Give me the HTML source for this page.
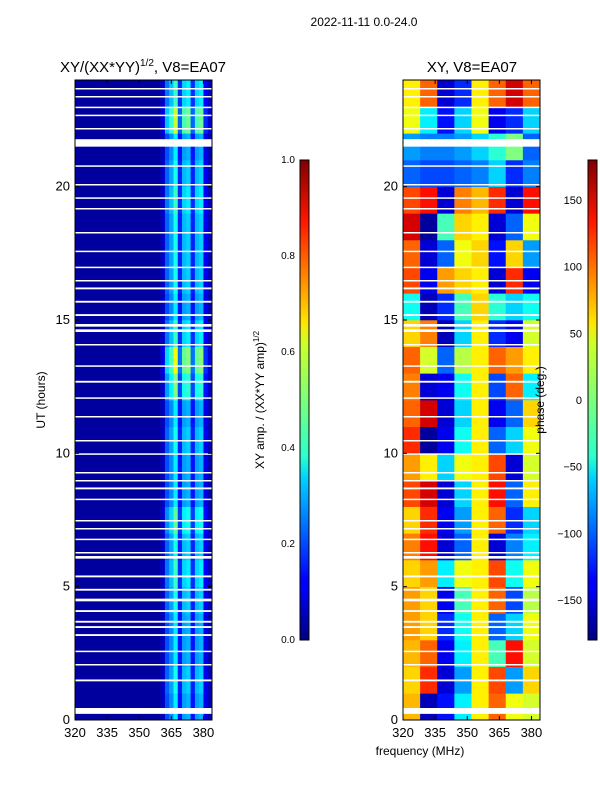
<!DOCTYPE html>
<html><head><meta charset="utf-8">
<style>
body{margin:0;background:#fff;font-family:"Liberation Sans",sans-serif;}
svg text{font-family:"Liberation Sans",sans-serif;fill:#000;}
</style></head><body>
<svg id="fig" width="600" height="800" viewBox="0 0 600 800">
<defs>
<linearGradient id="jet" x1="0" y1="1" x2="0" y2="0">
<stop offset="0" stop-color="#00007f"/><stop offset="0.11" stop-color="#0000ff"/>
<stop offset="0.125" stop-color="#0000ff"/><stop offset="0.34" stop-color="#00d4ff"/>
<stop offset="0.38" stop-color="#29ffce"/><stop offset="0.5" stop-color="#7dff7a"/>
<stop offset="0.62" stop-color="#ceff29"/><stop offset="0.66" stop-color="#ffe500"/>
<stop offset="0.875" stop-color="#ff1400"/><stop offset="1" stop-color="#7f0000"/>
</linearGradient>
</defs>
<text x="364" y="26" font-size="12" text-anchor="middle">2022-11-11 0.0-24.0</text>
<text x="143" y="72" font-size="15" text-anchor="middle">XY/(XX*YY)<tspan font-size="10" dy="-6">1/2</tspan><tspan dy="6">, V8=EA07</tspan></text>
<text x="472" y="72" font-size="15" text-anchor="middle">XY, V8=EA07</text>
<g id="left"></g>
<g id="right"></g>
<g id="axes"></g>
<rect x="300" y="160" width="9" height="480" fill="url(#jet)" stroke="#000" stroke-width="1"/>
<rect x="588" y="160" width="9" height="480" fill="url(#jet)" stroke="#000" stroke-width="1"/>
<text transform="translate(264,400) rotate(-90)" font-size="12" text-anchor="middle">XY amp. / (XX*YY amp)<tspan font-size="8" dy="-5">1/2</tspan></text>
<text transform="translate(544,400) rotate(-90)" font-size="12" text-anchor="middle">phase (deg.)</text>
<text transform="translate(45,400) rotate(-90)" font-size="12" text-anchor="middle">UT (hours)</text>
<text x="420" y="755" font-size="12" text-anchor="middle">frequency (MHz)</text>
</svg>
<script>
const freqMin=320,freqMax=384,hourMin=0,hourMax=24;
const ampChannelStart=[320,360,362,364,366,368,370,372,374,376,378,380,382];
const ampProfile=[0.03,0.06,0.2,0.26,0.36,0.14,0.28,0.3,0.14,0.28,0.3,0.1,0.05];
const ampHourGain=[1.0,1.1,1.0,1.0,1.1,1.2,1.1,1.3,1.0,1.0,1.1,1.0,1.4,1.7,1.2,1.0,1.1,1.1,1.1,1.2,1.1,1.0,1.6,1.2];
const phaseBinStart=[320,328,336,344,352,360,368,376];
const phaseGrid=[
[70,-160,-130,-50,50,100,40,30],
[60,120,-150,-80,50,110,-80,60],
[70,100,-140,-50,50,-20,130,30],
[80,60,-120,-40,50,-100,-60,40],
[80,60,-140,-20,50,100,-110,20],
[60,80,-50,40,50,110,-40,40],
[90,130,-150,-100,50,-150,-90,-50],
[60,120,-140,-80,50,100,-120,-60],
[110,150,-150,-60,50,130,-100,50],
[80,50,-60,40,50,110,-150,30],
[120,-170,-140,-40,50,-100,-60,40],
[100,150,-150,-60,50,-140,-100,60],
[90,-150,-140,-40,50,-110,100,-50],
[100,30,-100,20,50,100,80,50],
[60,90,-160,-60,50,-120,-140,30],
[-40,-160,-120,-20,60,-30,-60,-40],
[110,-140,80,60,50,-150,120,-140],
[100,-150,-100,40,60,-130,60,-80],
[150,-170,-20,60,50,-150,-100,40],
[110,130,-150,90,70,120,-150,130],
[-100,-110,-110,-100,-90,-60,-120,-90],
[-80,-90,-90,-80,-60,-30,0,-100],
[40,-50,-130,-60,40,-140,-120,-60],
[50,100,-150,-120,50,100,150,100]];
const flagStart=[0.23,1.45,2.05,2.55,3.15,3.45,3.65,4.05,4.45,4.85,5.35,6.05,6.25,6.75,7.15,7.45,8.25,8.65,8.95,9.25,9.95,10.45,11.35,12.05,12.65,13.25,14.05,14.55,14.75,15.15,15.65,16.15,16.45,16.95,17.55,18.25,19.15,19.55,20.05,20.75,21.5,22.15,22.65,22.95,23.35,23.65];
const flagEnd=[0.45,1.52,2.1,2.6,3.22,3.52,3.72,4.12,4.55,4.92,5.42,6.15,6.3,6.8,7.2,7.5,8.3,8.72,9.0,9.3,10.0,10.5,11.4,12.1,12.72,13.3,14.1,14.65,14.85,15.22,15.72,16.22,16.5,17.0,17.6,18.3,19.2,19.6,20.1,20.8,21.78,22.2,22.7,23.0,23.4,23.7];
const ampTicks=[0,0.2,0.4,0.6,0.8,1.0];
const phaseTicks=[-150,-100,-50,0,50,100,150];
const xTicks=[320,335,350,365,380];
const yTicks=[0,5,10,15,20];

const NS='http://www.w3.org/2000/svg';
const panels=[{x0:75,x1:212},{x0:403,x1:540}];
const y0=720,y1=80;
function xs(p,f){return p.x0+(f-freqMin)/(freqMax-freqMin)*(p.x1-p.x0);}
function ys(h){return y0-(h-hourMin)/(hourMax-hourMin)*(y0-y1);}
function jet(v){v=Math.max(0,Math.min(1,v));
 const c=x=>Math.round(255*Math.max(0,Math.min(1,1.5-Math.abs(4*v-x))));
 return `rgb(${c(3)},${c(2)},${c(1)})`;}
function mk(tag,a,parent){const e=document.createElementNS(NS,tag);for(const k in a)e.setAttribute(k,a[k]);parent.appendChild(e);return e;}
const L=document.getElementById('left'),R=document.getElementById('right'),A=document.getElementById('axes');
for(let h=0;h<24;h++){
 for(let c=0;c<ampChannelStart.length;c++){
  const f0=ampChannelStart[c],f1=c+1<ampChannelStart.length?ampChannelStart[c+1]:freqMax;
  const v=c===0?ampProfile[c]:ampProfile[c]*ampHourGain[h];
  const r=mk('rect',{x:xs(panels[0],f0),y:ys(h+1),width:xs(panels[0],f1)-xs(panels[0],f0)+0.3,height:ys(h)-ys(h+1)+0.3,fill:jet(v)},L);
  
  
 }
 for(let c=0;c<phaseBinStart.length;c++){
  const f0=phaseBinStart[c],f1=c+1<phaseBinStart.length?phaseBinStart[c+1]:freqMax;
  const v=(phaseGrid[h][c]+180)/360;
  const r=mk('rect',{x:xs(panels[1],f0),y:ys(h+1),width:xs(panels[1],f1)-xs(panels[1],f0)+0.3,height:ys(h)-ys(h+1)+0.3,fill:jet(v)},R);
  
  
 }
}
panels.forEach((p,i)=>{
 const g=i?R:L;
 for(let k=0;k<flagStart.length;k++){
  const r=mk('rect',{x:p.x0,y:ys(flagEnd[k]),width:p.x1-p.x0,height:Math.max(1.5,ys(flagStart[k])-ys(flagEnd[k])),fill:'#fff'},g);
  
  
 }
 const fr=mk('rect',{x:p.x0,y:y1,width:p.x1-p.x0,height:y0-y1,fill:'none',stroke:'#000','stroke-width':1},A);
 
 
 xTicks.forEach(t=>{const x=xs(p,t);
  mk('line',{x1:x,x2:x,y1:y0,y2:y0-4,stroke:'#000'},A);
  mk('line',{x1:x,x2:x,y1:y1,y2:y1+4,stroke:'#000'},A);
  const tx=mk('text',{x:x,y:y0+17,'font-size':13,'text-anchor':'middle'},A);tx.textContent=t;
  
  
 });
 yTicks.forEach(t=>{const y=ys(t);
  mk('line',{x1:p.x0,x2:p.x0+4,y1:y,y2:y,stroke:'#000'},A);
  mk('line',{x1:p.x1,x2:p.x1-4,y1:y,y2:y,stroke:'#000'},A);
  const tx=mk('text',{x:p.x0-5,y:y+4,'font-size':13,'text-anchor':'end'},A);tx.textContent=t;
  
  
 });
});
ampTicks.forEach(t=>{const y=640-t*480;
 mk('line',{x1:300,x2:302,y1:y,y2:y,stroke:'#000'},A);mk('line',{x1:307,x2:309,y1:y,y2:y,stroke:'#000'},A);
 const tx=mk('text',{x:295,y:y+3,'font-size':10,'text-anchor':'end'},A);tx.textContent=t.toFixed(1);
 
 
});
phaseTicks.forEach(t=>{const y=640-(t+180)/360*480;
 mk('line',{x1:588,x2:590,y1:y,y2:y,stroke:'#000'},A);mk('line',{x1:595,x2:597,y1:y,y2:y,stroke:'#000'},A);
 const tx=mk('text',{x:582,y:y+4,'font-size':11,'text-anchor':'end'},A);tx.textContent=t<0?'\u2212'+(-t):t;
 
 
});
</script>
</body></html>
